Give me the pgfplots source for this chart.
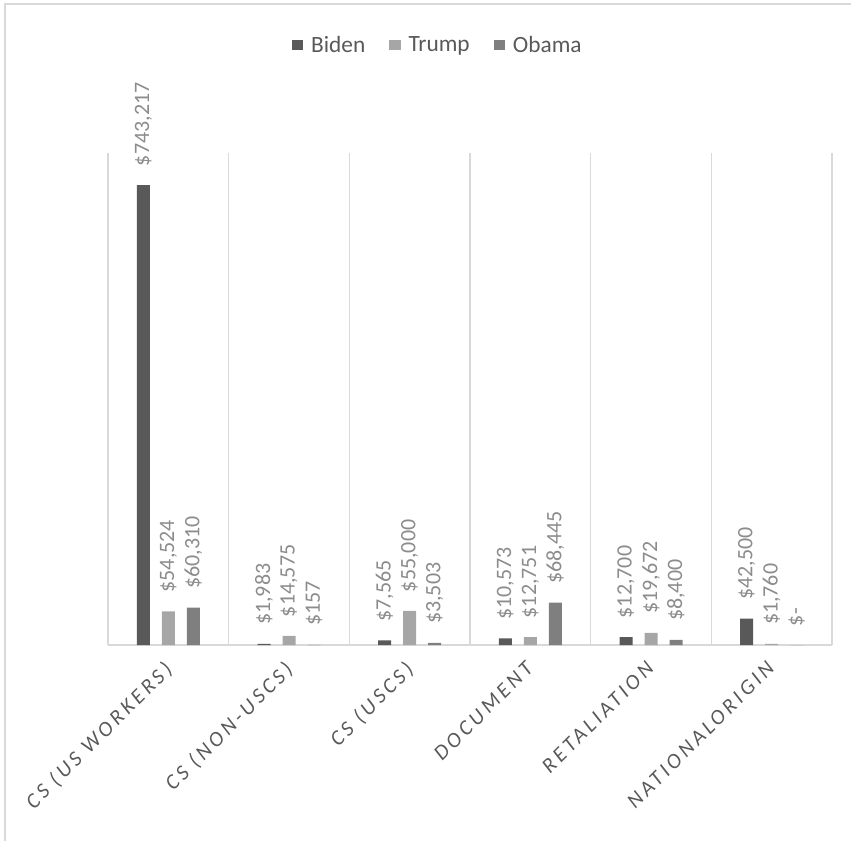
\documentclass[border=0pt]{standalone}
\usepackage{pgfplots}
\pgfplotsset{compat=1.18}
\usepackage{pgfplotstable}
\usepackage{fontspec}
\setmainfont{Carlito}
\newfontfamily\spacedfont[LetterSpace=17, ItalicFont={Carlito Italic}]{Carlito}

\definecolor{biden}{HTML}{595959}
\definecolor{trump}{HTML}{A6A6A6}
\definecolor{obama}{HTML}{7F7F7F}
\definecolor{gridgray}{HTML}{D9D9D9}
\definecolor{labelgray}{HTML}{8C8C8C}
\definecolor{textgray}{HTML}{595959}

% settlement amounts by administration
\pgfplotstableread{
x y lab
0 743217 743,217
1 1983 1,983
2 7565 7,565
3 10573 10,573
4 12700 12,700
5 42500 42,500
}\bidentab
\pgfplotstableread{
x y lab
0 54524 54,524
1 14575 14,575
2 55000 55,000
3 12751 12,751
4 19672 19,672
5 1760 1,760
}\trumptab
\pgfplotstableread{
x y lab
0 60310 60,310
1 157 157
2 3503 3,503
3 68445 68,445
4 8400 8,400
5 0 -
}\obamatab

\newcommand\legsq[1]{\fill[#1] (0pt,-4.1pt) rectangle (8.4pt,4.1pt);}

\begin{document}
\begin{tikzpicture}
\useasboundingbox (0,0) rectangle (638.25pt,-630.75pt);
% chart frame
\draw[gridgray, line width=1pt] (3.75pt,-640pt) -- (3.75pt,-3pt) -- (645pt,-3pt);
\begin{axis}[
  at={(81pt,-483.75pt)}, anchor=south west,
  scale only axis, width=543pt, height=369pt,
  xmin=-0.5, xmax=5.5, ymin=0, ymax=795000,
  clip=false,
  axis y line=none, axis x line*=bottom,
  x axis line style={gridgray, line width=1pt},
  xtick={0,...,5},
  xticklabels={CS (US WORKERS),CS (NON-USCS),CS (USCS),DOCUMENT,RETALIATION,{NATIONAL\hspace{-0.3em} ORIGIN}},
  major tick length=0pt, minor tick length=0pt,
  minor xtick={-0.5,0.5,...,5.5},
  xminorgrids, minor grid style={gridgray, line width=1pt},
  xticklabel style={xshift=-4.5pt, yshift=-11pt, rotate=45, anchor=north east, inner sep=0pt,
    font=\spacedfont\itshape\fontsize{16}{18}\selectfont, text=textgray},
  ybar=9pt, bar width=9.75pt,
  point meta=explicit symbolic,
  nodes near coords={\$\pgfplotspointmeta},
  every node near coord/.append style={rotate=90, anchor=west, inner xsep=14pt, inner ysep=0pt,
    font=\fontsize{16.5}{18}\selectfont, text=labelgray},
  legend columns=3,
  legend style={at={(0.456,1.2195)}, anchor=center, draw=none, fill=none,
    font=\fontsize{17.5}{19}\selectfont, text=textgray,
    /tikz/every even column/.append style={column sep=16pt},
    /tikz/every odd column/.append style={column sep=4pt}},
]
\addplot[fill=biden, draw=none, legend image code/.code={\legsq{biden}}]
  table[x=x, y=y, meta=lab] {\bidentab};
\addplot[fill=trump, draw=none, legend image code/.code={\legsq{trump}}]
  table[x=x, y=y, meta=lab] {\trumptab};
\addplot[fill=obama, draw=none, legend image code/.code={\legsq{obama}}]
  table[x=x, y=y, meta=lab] {\obamatab};
\legend{Biden,Trump,Obama}
\end{axis}
\end{tikzpicture}
\end{document}
